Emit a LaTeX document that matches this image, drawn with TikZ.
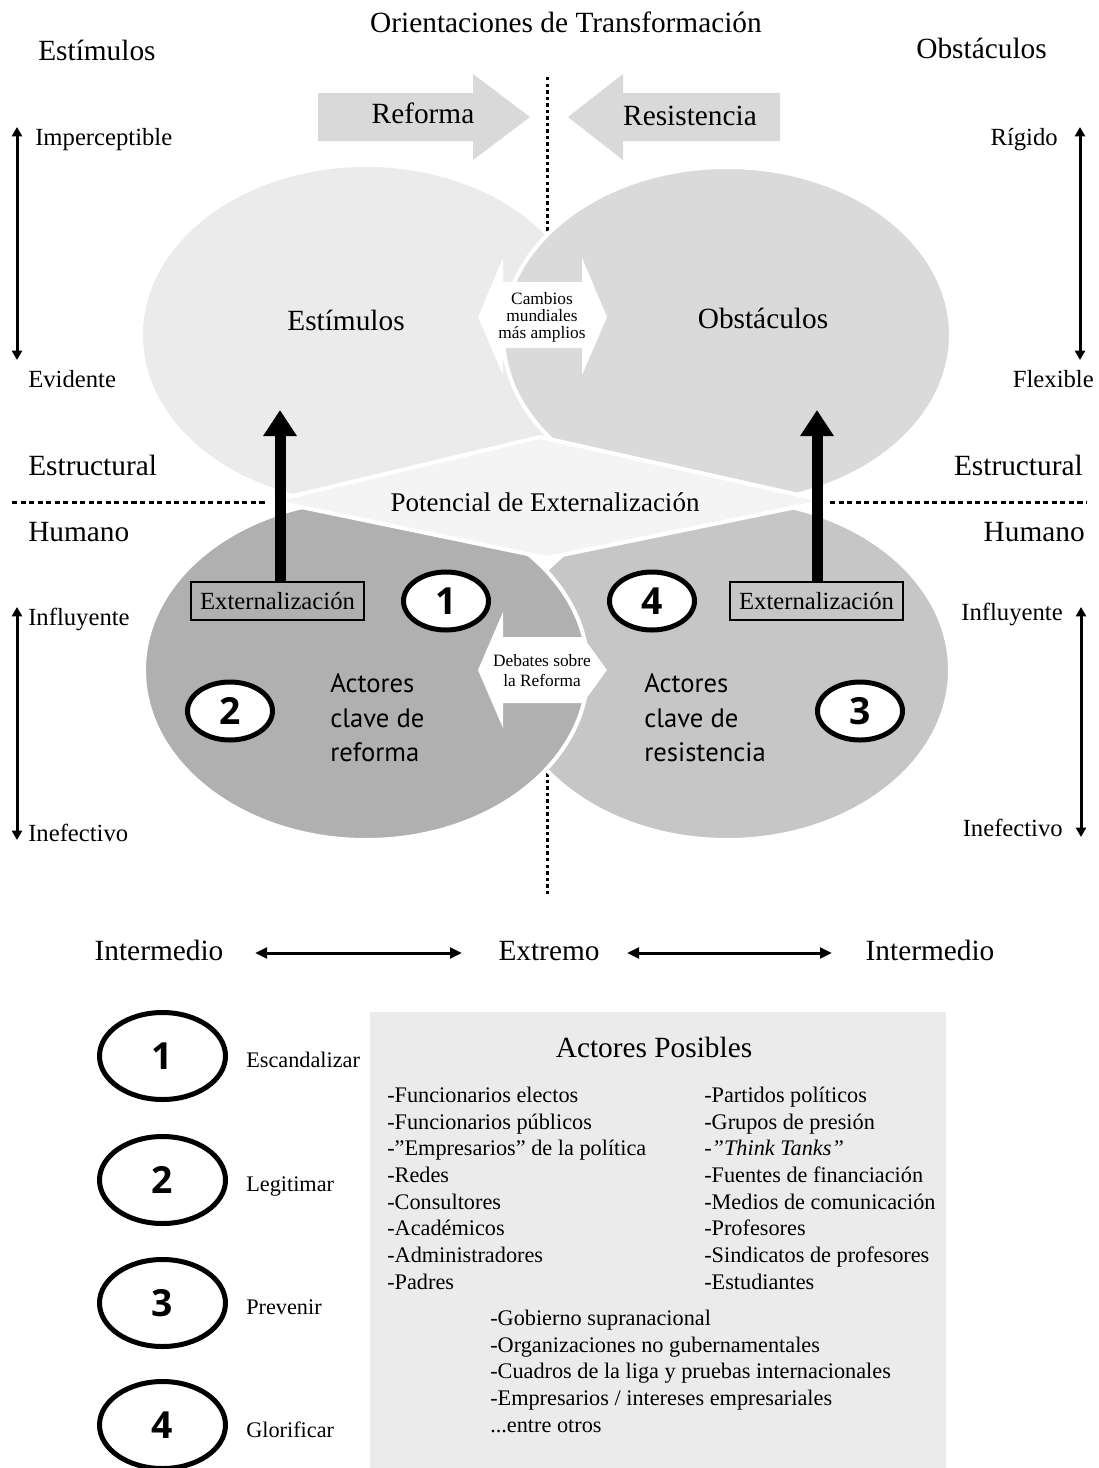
\documentclass[tikz,border=0pt]{standalone}
\usepackage{fontspec}
\setmainfont{Liberation Serif}
\newfontfamily\sansf{PT Sans}
\newfontfamily\numf{Open Sans}
\usetikzlibrary{arrows.meta,shapes.geometric}
\definecolor{tlgray}{HTML}{EBEBEB}
\definecolor{trgray}{HTML}{DADADA}
\definecolor{blgray}{HTML}{B0B0B0}
\definecolor{brgray}{HTML}{C6C6C6}
\definecolor{diagray}{HTML}{F4F4F4}
\definecolor{arrgray}{HTML}{D9D9D9}
\definecolor{boxgray}{HTML}{EBEBEB}
\begin{document}
\begin{tikzpicture}[x=0.75pt,y=-0.75pt,
  Lf/.style={font=\fontsize{22}{26}\selectfont, inner sep=0pt},
  Mf/.style={font=\fontsize{18.5}{22}\selectfont, inner sep=0pt},
  Sf/.style={font=\fontsize{16.7}{20}\selectfont, inner sep=0pt, anchor=base west},
  XSf/.style={font=\fontsize{13}{15}\selectfont, inner sep=0pt, anchor=base},
  actf/.style={font=\sansf\fontsize{20}{24}\selectfont, inner sep=0pt, anchor=base west},
  numcirc/.style={ellipse, draw=black, line width=3.75pt, fill=white, minimum width=63.75pt, minimum height=43.5pt, inner sep=0pt, font=\numf\bfseries\fontsize{28}{28}\selectfont},
  bignum/.style={numcirc, minimum width=94.5pt, minimum height=65.25pt},
  extbox/.style={draw=black, line width=1.5pt, minimum width=129.75pt, minimum height=28.5pt, inner sep=0pt, font=\fontsize{18.5}{22}\selectfont},
  axisarrow/.style={line width=2.25pt, {Triangle[width=7.5pt,length=7pt]}-{Triangle[width=7.5pt,length=7pt]}},
  dblarrow/.style={line width=2.25pt, {Triangle[width=8pt,length=9pt]}-{Triangle[width=8pt,length=9pt]}},
  extarrow/.style={line width=8.25pt, -{Triangle[width=24pt,length=19.5pt]}},
  vdots/.style={line width=2.25pt, dash pattern=on 2.6pt off 2.3pt},
  hdash/.style={line width=2.25pt, dash pattern=on 3.8pt off 2.6pt},
  sep/.style={draw=white, line width=3pt}
]
\useasboundingbox (0,0) rectangle (1099,1468);
\fill[white] (0,0) rectangle (1099,1468);

% dotted vertical centre line
\draw[vdots] (547,77) -- (547,240);
\draw[vdots] (547,760) -- (547,895);

% top ellipses
\fill[tlgray] (366,335) ellipse [x radius=223, y radius=168];
\filldraw[fill=trgray, sep] (727,335) ellipse [x radius=224, y radius=168];
% bottom ellipses
\filldraw[fill=brgray, sep] (727,670) ellipse [x radius=223, y radius=170];
\filldraw[fill=blgray, sep] (366,670) ellipse [x radius=222, y radius=170];
% central diamond
\filldraw[fill=diagray, draw=white, line width=3pt] (272,501) -- (540,437) -- (826,501) -- (547,558) -- cycle;

% white inner arrows
\fill[white] (478,317) -- (503,258) -- (503,282) -- (582,282) -- (582,258) -- (607,317) -- (582,375) -- (582,348) -- (503,348) -- (503,375) -- cycle;
\fill[white] (478,670) -- (503,612) -- (503,637) -- (583,637) -- (607,670) -- (583,703) -- (503,703) -- (503,728) -- cycle;

% dashed horizontal line
\draw[hdash] (12,502) -- (266,502);
\draw[hdash] (830,502) -- (1087,502);

% top block arrows
\fill[arrgray] (318,93) -- (473,93) -- (473,74) -- (530,117) -- (473,160) -- (473,141) -- (318,141) -- cycle;
\fill[arrgray] (780,93) -- (623,93) -- (623,74) -- (568,117) -- (623,160) -- (623,141) -- (780,141) -- cycle;

% titles
\node[Lf, anchor=base] (title) at (566,32) {Orientaciones de Transformación};
\node[Lf, anchor=base west] (estL) at (38,60) {Estímulos};
\node[Lf, anchor=base east] (obsR) at (1047,58) {Obstáculos};
\node[Lf, anchor=base] (reforma) at (423,123) {Reforma};
\node[Lf, anchor=base] (resist) at (690,125) {Resistencia};

% side axes
\node[Mf, anchor=base west] (imp) at (35,145) {Imperceptible};
\node[Mf, anchor=base west] (evi) at (28,387) {Evidente};
\node[Mf, anchor=base east] (rig) at (1058,145) {Rígido};
\node[Mf, anchor=base east] (flex) at (1094,387) {Flexible};
\coordinate (ax1t) at (17,127); \coordinate (ax1b) at (17,360);
\coordinate (ax2t) at (1080,127); \coordinate (ax2b) at (1080,360);
\draw[axisarrow] (ax1t) -- (ax1b);
\draw[axisarrow] (ax2t) -- (ax2b);

\node[Lf, anchor=base west] (estrL) at (28,475) {Estructural};
\node[Lf, anchor=base east] (estrR) at (1083,475) {Estructural};
\node[Lf, anchor=base west] (humL) at (28,541) {Humano};
\node[Lf, anchor=base east] (humR) at (1085,541) {Humano};

\node[Mf, anchor=base west] (inflL) at (28,625) {Influyente};
\node[Mf, anchor=base west] (inefL) at (28,841) {Inefectivo};
\node[Mf, anchor=base east] (inflR) at (1063,620) {Influyente};
\node[Mf, anchor=base east] (inefR) at (1063,836) {Inefectivo};
\coordinate (ax3t) at (17,607); \coordinate (ax3b) at (17,840);
\coordinate (ax4t) at (1081,607); \coordinate (ax4b) at (1081,837);
\draw[axisarrow] (ax3t) -- (ax3b);
\draw[axisarrow] (ax4t) -- (ax4b);

% ellipse texts
\node[Lf, anchor=base] (estim) at (346,330) {Estímulos};
\node[Lf, anchor=base] (obst) at (763,328) {Obstáculos};
\node[XSf] (camb1) at (542,304) {Cambios};
\node[XSf] (camb2) at (542,321) {mundiales};
\node[XSf] (camb3) at (542,338) {más amplios};
\node[font=\fontsize{20.25}{24}\selectfont, inner sep=0pt, anchor=base] (pot) at (545,511) {Potencial de Externalización};
\node[XSf] (deb1) at (542,666) {Debates sobre};
\node[XSf] (deb2) at (542,686) {la Reforma};

% Externalizacion boxes and arrows
\node[extbox] (boxL) at (277.5,601) {Externalización};
\node[extbox] (boxR) at (816.5,601) {Externalización};
\coordinate (tipL) at (280,410);
\coordinate (tipR) at (817,410);
\draw[extarrow] (boxL.north -| tipL) -- (tipL);
\draw[extarrow] (boxR.north -| tipR) -- (tipR);

% number ellipses in diagram
\node[numcirc] (d1) at (446,601) {1};
\node[numcirc] (d4) at (652,601) {4};
\node[numcirc] (d2) at (230,711) {2};
\node[numcirc] (d3) at (860,711) {3};

% actors text
\node[actf] (ar1) at (330,692) {Actores};
\node[actf] (ar2) at (330,727) {clave de};
\node[actf] (ar3) at (330,761) {reforma};
\node[actf] (rr1) at (644,692) {Actores};
\node[actf] (rr2) at (644,727) {clave de};
\node[actf] (rr3) at (644,761) {resistencia};

% intermediate / extreme line
\node[Lf, anchor=base] (intL) at (159,960) {Intermedio};
\node[Lf, anchor=base] (ext) at (549,960) {Extremo};
\node[Lf, anchor=base] (intR) at (930,960) {Intermedio};
\coordinate (b1) at (255,953); \coordinate (b2) at (462,953);
\coordinate (b3) at (627,953); \coordinate (b4) at (832,953);
\draw[dblarrow] (b1) -- (b2);
\draw[dblarrow] (b3) -- (b4);

% legend ellipses
\node[bignum] (l1) at (162.5,1056) {1};
\node[bignum] (l2) at (162.5,1180) {2};
\node[bignum] (l3) at (162.5,1303) {3};
\node[bignum] (l4) at (162.5,1425) {4};
\node[Sf] (lt1) at (246,1067) {Escandalizar};
\node[Sf] (lt2) at (246,1191) {Legitimar};
\node[Sf] (lt3) at (246,1314) {Prevenir};
\node[Sf] (lt4) at (246,1437) {Glorificar};

% actors box
\fill[boxgray] (370,1012) rectangle (946,1468);
\node[Lf, anchor=base] (apos) at (654,1057) {Actores Posibles};
\foreach \t [count=\i from 0] in {-Funcionarios electos,-Funcionarios públicos,-”Empresarios” de la política,-Redes,-Consultores,-Académicos,-Administradores,-Padres}
  \node[Sf] (lc\i) at (387,1102.4+26.67*\i) {\t};
\foreach \t [count=\i from 0] in {-Partidos políticos,-Grupos de presión,-\textit{”Think Tanks”},-Fuentes de financiación,-Medios de comunicación,-Profesores,-Sindicatos de profesores,-Estudiantes}
  \node[Sf] (rc\i) at (704,1102.4+26.67*\i) {\t};
\foreach \t [count=\i from 0] in {-Gobierno supranacional,-Organizaciones no gubernamentales,-Cuadros de la liga y pruebas internacionales,-Empresarios / intereses empresariales}
  \node[Sf] (bc\i) at (490,1325.4+26.67*\i) {\t};
\node[Sf] (bc4) at (490,1432.1) {.{}.{}.entre otros};
\end{tikzpicture}
\end{document}
